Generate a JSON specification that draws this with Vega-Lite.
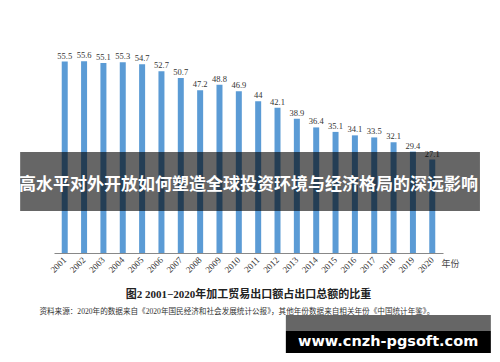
{
  "$schema": "https://vega.github.io/schema/vega-lite/v6.json",
  "width": 389,
  "height": 207,
  "autosize": "none",
  "padding": {"left": 54, "top": 46, "right": 57, "bottom": 109},
  "background": "white",
  "config": {"view": {"stroke": null}, "font": "Liberation Serif"},
  "layer": [
    {
      "data": {"values": [
        {"year": "2001", "value": 55.5},
        {"year": "2002", "value": 55.6},
        {"year": "2003", "value": 55.1},
        {"year": "2004", "value": 55.3},
        {"year": "2005", "value": 54.7},
        {"year": "2006", "value": 52.7},
        {"year": "2007", "value": 50.7},
        {"year": "2008", "value": 47.2},
        {"year": "2009", "value": 48.8},
        {"year": "2010", "value": 46.9},
        {"year": "2011", "value": 44},
        {"year": "2012", "value": 42.1},
        {"year": "2013", "value": 38.9},
        {"year": "2014", "value": 36.4},
        {"year": "2015", "value": 35.1},
        {"year": "2016", "value": 34.1},
        {"year": "2017", "value": 33.5},
        {"year": "2018", "value": 32.1},
        {"year": "2019", "value": 29.4},
        {"year": "2020", "value": 27.1}
      ]},
      "encoding": {
        "x": {
          "field": "year", "type": "ordinal", "title": "年份",
          "scale": {"paddingInner": 0.69, "paddingOuter": 0.4},
          "axis": {
            "labelAngle": -45, "labelAlign": "right", "labelBaseline": "middle",
            "labelPadding": 5, "labelFontSize": 9, "labelColor": "#333",
            "labelFont": "Liberation Serif",
            "ticks": false, "domainColor": "#888", "domainWidth": 1.2,
            "titleFont": "Noto Sans CJK SC", "titleFontSize": 9, "titleFontWeight": "normal",
            "titleColor": "#444", "titleAngle": 0, "titleAlign": "left",
            "titleBaseline": "middle", "titleAnchor": null,
            "titleX": 387, "titleY": 10
          }
        },
        "y": {
          "field": "value", "type": "quantitative", "title": null,
          "scale": {"domain": [0, 60], "nice": false},
          "axis": {
            "values": [0, 10, 20, 30, 40, 50, 60], "grid": false,
            "tickSize": 4, "tickColor": "#777", "domainColor": "#888", "domainWidth": 1.2,
            "labelFontSize": 9, "labelColor": "#333", "labelPadding": 3,
            "labelFont": "Liberation Serif"
          }
        }
      },
      "layer": [
        {"mark": {"type": "bar", "color": "#5b9bd5"}},
        {
          "mark": {"type": "text", "dy": -6, "fontSize": 8.5, "color": "#333", "font": "Liberation Serif"},
          "encoding": {"text": {"field": "value", "type": "quantitative"}}
        }
      ]
    },
    {
      "data": {"values": [{}]},
      "mark": {"type": "text", "color": "#222", "font": "Liberation Serif, Noto Sans CJK SC", "fontWeight": "bold", "fontSize": 11, "align": "center", "baseline": "middle"},
      "encoding": {
        "x": {"datum": 0.5, "type": "quantitative", "scale": {"domain": [0, 1]}, "axis": null},
        "y": {"datum": -12.2, "type": "quantitative", "scale": {"domain": [0, 60], "nice": false}, "axis": null},
        "text": {"value": "图2  2001−2020年加工贸易出口额占出口总额的比重"}
      }
    },
    {
      "data": {"values": [{}]},
      "mark": {"type": "text", "color": "#333", "font": "Liberation Serif, Noto Sans CJK SC", "fontSize": 7.6, "align": "center", "baseline": "middle"},
      "encoding": {
        "x": {"datum": 0.47, "type": "quantitative", "scale": {"domain": [0, 1]}, "axis": null},
        "y": {"datum": -17.1, "type": "quantitative", "scale": {"domain": [0, 60], "nice": false}, "axis": null},
        "text": {"value": "资料来源：2020年的数据来自《2020年国民经济和社会发展统计公报》，其他年份数据来自相关年份《中国统计年鉴》。"}
      }
    },
    {
      "data": {"values": [{}]},
      "mark": {"type": "rect", "color": "black", "opacity": 0.6},
      "encoding": {
        "x": {"datum": -0.087, "type": "quantitative", "scale": {"domain": [0, 1]}, "axis": null},
        "x2": {"datum": 1.095},
        "y": {"datum": 29.3, "type": "quantitative", "scale": {"domain": [0, 60], "nice": false}, "axis": null},
        "y2": {"datum": 12.2}
      }
    },
    {
      "data": {"values": [{}]},
      "mark": {"type": "text", "color": "white", "font": "Noto Sans CJK SC", "fontWeight": "bold", "fontSize": 17, "align": "center", "baseline": "middle"},
      "encoding": {
        "x": {"datum": 0.5, "type": "quantitative", "scale": {"domain": [0, 1]}, "axis": null},
        "y": {"datum": 19.7, "type": "quantitative", "scale": {"domain": [0, 60], "nice": false}, "axis": null},
        "text": {"value": "高水平对外开放如何塑造全球投资环境与经济格局的深远影响"}
      }
    },
    {
      "data": {"values": [{}]},
      "mark": {"type": "rect", "color": "black", "opacity": 0.6},
      "encoding": {
        "x": {"datum": 0.596, "type": "quantitative", "scale": {"domain": [0, 1]}, "axis": null},
        "x2": {"datum": 1.123},
        "y": {"datum": -18, "type": "quantitative", "scale": {"domain": [0, 60], "nice": false}, "axis": null},
        "y2": {"datum": -22.6}
      }
    },
    {
      "data": {"values": [{}]},
      "mark": {"type": "rect", "color": "black", "opacity": 1},
      "encoding": {
        "x": {"datum": 0.596, "type": "quantitative", "scale": {"domain": [0, 1]}, "axis": null},
        "x2": {"datum": 1.123},
        "y": {"datum": -22.6, "type": "quantitative", "scale": {"domain": [0, 60], "nice": false}, "axis": null},
        "y2": {"datum": -29}
      }
    },
    {
      "data": {"values": [{}]},
      "mark": {"type": "text", "color": "white", "font": "DejaVu Sans", "fontWeight": "bold", "fontSize": 14.5, "align": "center", "baseline": "middle"},
      "encoding": {
        "x": {"datum": 0.859, "type": "quantitative", "scale": {"domain": [0, 1]}, "axis": null},
        "y": {"datum": -25.8, "type": "quantitative", "scale": {"domain": [0, 60], "nice": false}, "axis": null},
        "text": {"value": "www.cnzh-pgsoft.com"}
      }
    }
  ],
  "resolve": {"scale": {"x": "independent"}}
}
